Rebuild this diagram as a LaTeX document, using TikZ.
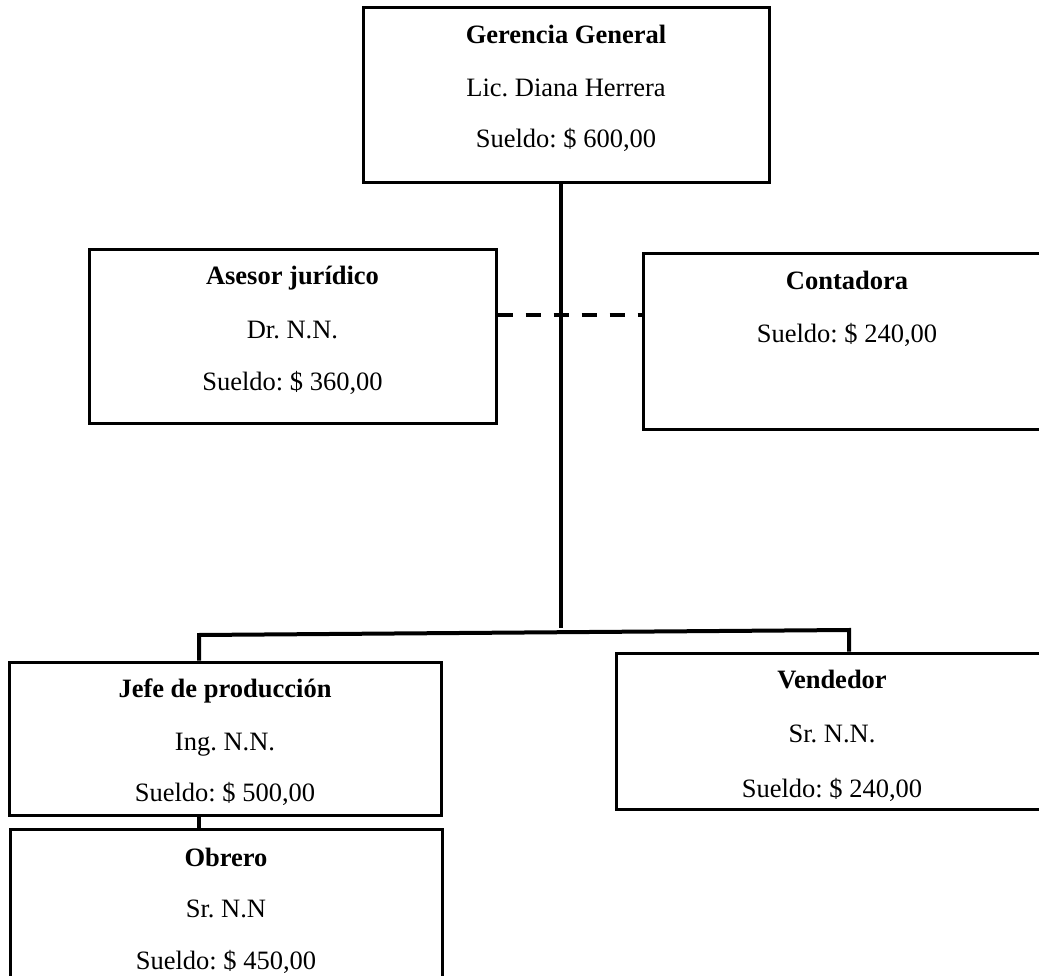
\documentclass[tikz,border=0pt]{standalone}
\usepackage{fontspec}
\setmainfont{Liberation Serif}
\frenchspacing
\begin{document}
\begin{tikzpicture}[x=1pt,y=-1pt,
  box/.style={draw=black, line width=3pt, rectangle, inner sep=0pt, fill=none},
  lbl/.style={anchor=base, inner sep=0pt, font=\fontsize{26.5}{30}\selectfont\frenchspacing},
  hd/.style={lbl, font=\fontsize{26.5}{30}\selectfont\bfseries\frenchspacing},
  conn/.style={draw=black, line width=4pt},
  dashconn/.style={draw=black, line width=4.5pt, dash pattern=on 15pt off 13pt}]
\clip (0,0) rectangle (1039,976);
\useasboundingbox (0,0) rectangle (1039,976);
% boxes
\node[box, minimum width=406pt, minimum height=175pt] (gg) at (566,95.5) {};
\node[box, minimum width=407pt, minimum height=173pt] (as) at (292.5,336.5) {};
\node[box, minimum width=408pt, minimum height=175pt] (ct) at (847,341.5) {};
\node[box, minimum width=432pt, minimum height=153pt] (jp) at (225,738.5) {};
\node[box, minimum width=432pt, minimum height=156pt] (vd) at (832,731) {};
\node[box, minimum width=432pt, minimum height=175pt] (ob) at (226,916.5) {};
% texts
\node[hd] (gg1) at (566,44) {Gerencia General};
\node[lbl] (gg2) at (566,97) {Lic. Diana Herrera};
\node[lbl] (gg3) at (566,148) {Sueldo: \$ 600,00};
\node[hd] (as1) at (292.5,285) {Asesor jurídico};
\node[lbl] (as2) at (292.5,338) {Dr. N.N.};
\node[lbl] (as3) at (292.5,390) {Sueldo: \$ 360,00};
\node[hd] (ct1) at (847,290) {Contadora};
\node[lbl] (ct2) at (847,342) {Sueldo: \$ 240,00};
\node[hd] (jp1) at (225,697) {Jefe de producción};
\node[lbl] (jp2) at (225,750) {Ing. N.N.};
\node[lbl] (jp3) at (225,801) {Sueldo: \$ 500,00};
\node[hd] (vd1) at (832,688) {Vendedor};
\node[lbl] (vd2) at (832,742) {Sr. N.N.};
\node[lbl] (vd3) at (832,797) {Sueldo: \$ 240,00};
\node[hd] (ob1) at (226,866) {Obrero};
\node[lbl] (ob2) at (226,917) {Sr. N.N};
\node[lbl] (ob3) at (226,969) {Sueldo: \$ 450,00};
% connector points
\coordinate (trunk) at (561,628);
\coordinate (barL) at (199,635);
\coordinate (barR) at (849,630);
\coordinate (dl) at (561,315);
% connectors
\draw[conn] (trunk |- gg.south) -- (trunk);
\draw[conn] (barL |- jp.north) -- (barL) -- (barR) -- (barR |- vd.north);
\draw[conn] (barL |- jp.south) -- (barL |- ob.north);
\draw[dashconn] (as.east |- dl) -- (ct.west |- dl);
\end{tikzpicture}
\end{document}
